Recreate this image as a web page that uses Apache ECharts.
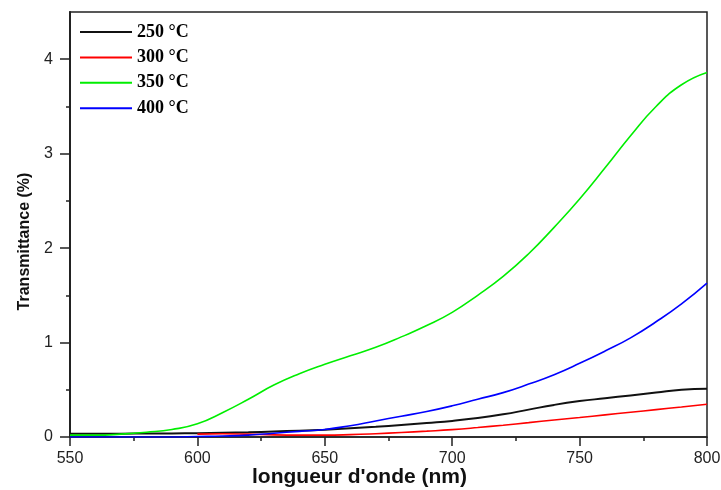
<!DOCTYPE html>
<html>
<head>
<meta charset="utf-8">
<script src="https://cdn.jsdelivr.net/npm/echarts@6/dist/echarts.min.js"></script>
<style>
  html, body { margin: 0; padding: 0; background: #fff; }
  #main { width: 721px; height: 490px; }
</style>
</head>
<body>
<div id="main"></div>
<script>
// longueur d'onde (nm)
let wavelengths = [550, 560, 570, 580, 590, 600, 610, 620, 630, 640, 650, 660, 670,
                   680, 690, 700, 710, 720, 730, 740, 750, 760, 770, 780, 790, 800];
let seriesNames = ['250 °C', '300 °C', '350 °C', '400 °C'];
let t250 = [0.035, 0.035, 0.035, 0.037, 0.038, 0.04, 0.045, 0.05, 0.058, 0.067, 0.078, 0.092, 0.108,
            0.127, 0.148, 0.17, 0.2, 0.24, 0.29, 0.34, 0.38, 0.41, 0.44, 0.47, 0.5, 0.51];
let t300 = [null, null, null, null, null, 0.03, 0.035, 0.03, 0.022, 0.02, 0.02, 0.025, 0.035,
            0.048, 0.062, 0.078, 0.1, 0.125, 0.152, 0.18, 0.206, 0.234, 0.262, 0.29, 0.318, 0.347];
let t350 = [0.02, 0.02, 0.03, 0.05, 0.08, 0.14, 0.26, 0.4, 0.55, 0.67, 0.77, 0.86, 0.95,
            1.06, 1.18, 1.32, 1.5, 1.7, 1.94, 2.22, 2.52, 2.85, 3.19, 3.5, 3.73, 3.86];
let t400 = [0, 0, 0, 0, 0, 0.005, 0.01, 0.02, 0.04, 0.06, 0.08, 0.12, 0.17,
            0.22, 0.27, 0.33, 0.4, 0.47, 0.56, 0.66, 0.78, 0.91, 1.05, 1.22, 1.41, 1.63];
let yMajor = [0, 1, 2, 3, 4];
let yMinor = [0.5, 1.5, 2.5, 3.5];

let colors = ['#111111', '#ff0000', '#00ee00', '#0000ff'];
let values = [t250, t300, t350, t400];

function pairs(arr) {
    return wavelengths.map(function (w, i) { return [w, arr[i]]; });
}

let myChart = echarts.init(document.getElementById('main'));

let option = {
    backgroundColor: '#fff',
    animation: false,
    grid: {
        left: 70, right: 14, top: 12, bottom: 53,
        outerBoundsMode: 'none',
        show: true, borderColor: '#222', borderWidth: 1.5
    },
    legend: {
        orient: 'vertical',
        left: 75, top: 17,
        icon: 'rect',
        itemWidth: 52, itemHeight: 2,
        itemGap: 5.4,
        data: seriesNames,
        textStyle: {
            fontFamily: 'Liberation Serif', fontWeight: 'bold',
            fontSize: 18, lineHeight: 20, color: '#000'
        }
    },
    xAxis: {
        type: 'value',
        min: 550, max: 800, interval: 50,
        name: "longueur d'onde (nm)",
        nameLocation: 'middle',
        nameGap: 30,
        nameMoveOverlap: false,
        nameTextStyle: {
            fontFamily: 'Liberation Sans', fontWeight: 'bold',
            fontSize: 21, color: '#111', padding: [0, 58, 0, 0]
        },
        axisLine: { lineStyle: { color: '#222', width: 1.5 } },
        axisTick: { length: 9, lineStyle: { color: '#222', width: 1.5 } },
        minorTick: { show: true, splitNumber: 2, length: 4, lineStyle: { color: '#222', width: 1.5 } },
        splitLine: { show: false },
        axisLabel: {
            fontFamily: 'Liberation Sans', fontSize: 16, color: '#222', margin: 14
        }
    },
    yAxis: [{
        type: 'value',
        min: 0, max: 4.5,
        position: 'left',
        name: 'Transmittance (%)',
        nameLocation: 'middle',
        nameGap: 37,
        nameMoveOverlap: false,
        nameTextStyle: {
            fontFamily: 'Liberation Sans', fontWeight: 'bold',
            fontSize: 16, color: '#111', padding: [0, 34, 0, 0]
        },
        axisLine: { show: true, lineStyle: { color: '#222', width: 2 } },
        axisTick: { show: true, length: 10, customValues: yMajor, lineStyle: { color: '#222', width: 1.5 } },
        splitLine: { show: false },
        axisLabel: {
            customValues: yMajor,
            fontFamily: 'Liberation Sans', fontSize: 16, color: '#222', margin: 17
        }
    }, {
        type: 'value',
        min: 0, max: 4.5,
        position: 'left',
        axisLine: { show: false },
        axisTick: { show: true, length: 4, customValues: yMinor, lineStyle: { color: '#222', width: 1.5 } },
        axisLabel: { show: false },
        splitLine: { show: false }
    }],
    series: seriesNames.map(function (name, i) {
        return {
            name: name,
            type: 'line',
            smooth: true,
            showSymbol: false,
            symbol: 'none',
            color: colors[i],
            lineStyle: { width: i === 0 ? 2 : 1.6, color: colors[i] },
            data: pairs(values[i])
        };
    })
};

myChart.setOption(option);
</script>
</body>
</html>
